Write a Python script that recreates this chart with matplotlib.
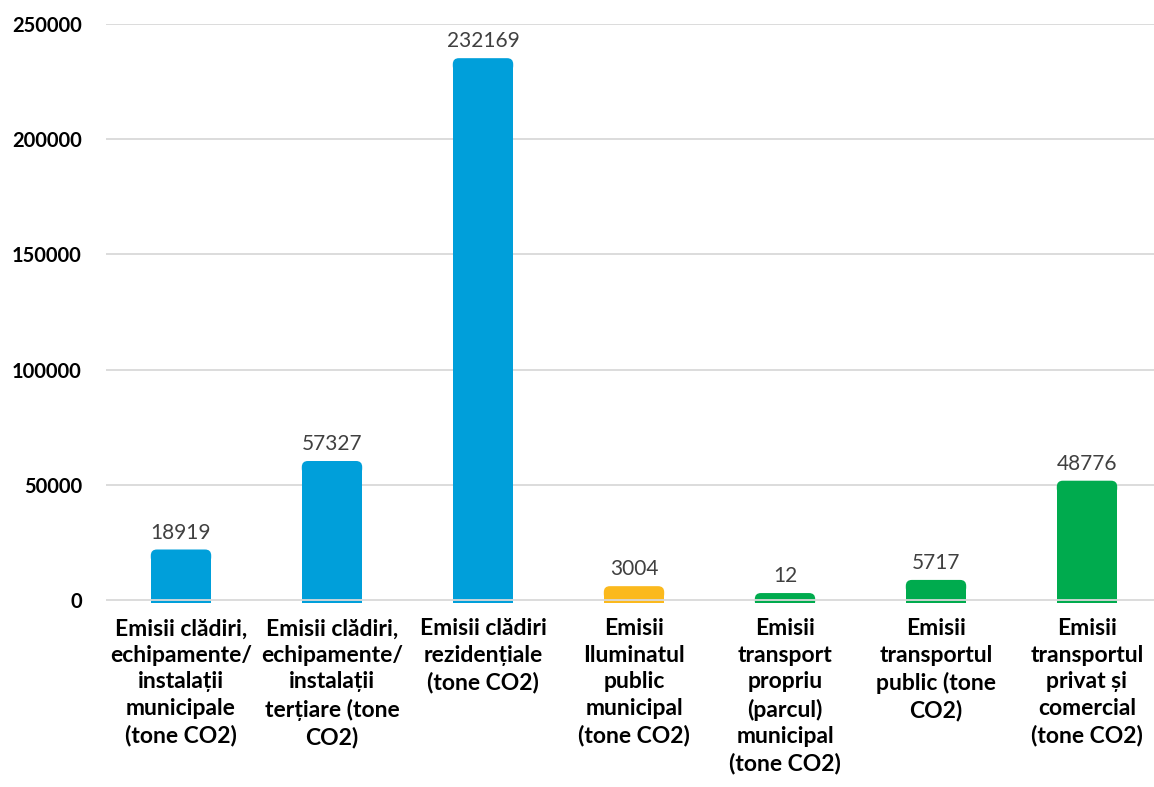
import matplotlib
matplotlib.use("Agg")
import matplotlib.pyplot as plt
from matplotlib.patches import FancyBboxPatch

categories = [
    "Emisii clădiri,\nechipamente/\ninstalații\nmunicipale\n(tone CO2)",
    "Emisii clădiri,\nechipamente/\ninstalații\nterțiare (tone\nCO2)",
    "Emisii clădiri\nrezidențiale\n(tone CO2)",
    "Emisii\nIluminatul\npublic\nmunicipal\n(tone CO2)",
    "Emisii\ntransport\npropriu\n(parcul)\nmunicipal\n(tone CO2)",
    "Emisii\ntransportul\npublic (tone\nCO2)",
    "Emisii\ntransportul\nprivat și\ncomercial\n(tone CO2)",
]
values = [18919, 57327, 232169, 3004, 12, 5717, 48776]
colors = ["#009FDA", "#009FDA", "#009FDA", "#FBB91D", "#00AB4E", "#00AB4E", "#00AB4E"]
yticks = [0, 50000, 100000, 150000, 200000, 250000]

plt.rcParams['font.family'] = ['Lato', 'DejaVu Sans']

fig = plt.figure(figsize=(11.54, 7.87), dpi=100)
ax = fig.add_axes([105.5/1154, 1 - 603/787, 1 - 105.5/1154, (603 - 24)/787])

scale = 250000 / 576.0  # data units per pixel
ax.set_ylim(-3 * scale, 250000)
ax.set_xlim(-0.5, 6.5 - (1162.5 - 1154) / 151)

for y in yticks:
    ax.axhline(y, color="#D9D9D9", lw=1.3, zorder=3 if y == 0 else 0)

cap = 3000
width = 0.4
for i, (v, c) in enumerate(zip(values, colors)):
    bottom = -3 * scale
    top = v + cap
    ax.bar(i, v - bottom, bottom=bottom, width=width, color=c, zorder=2)
    p = FancyBboxPatch((i - width / 2, v - cap), width, 2 * cap,
                       boxstyle="round,pad=0,rounding_size=0.04",
                       mutation_aspect=scale * 151,
                       facecolor=c, edgecolor="none", zorder=2)
    ax.add_patch(p)
    ax.annotate(f"{v}", (i, top), xytext=(0, 5), textcoords="offset points",
                ha="center", va="bottom", fontsize=15, color="#404040", zorder=4)

ax.set_yticks(yticks)
ax.set_yticklabels([str(t) for t in yticks], fontsize=14.5, fontweight="bold")
ax.set_xticks(range(len(categories)))
ax.set_xticklabels(categories, fontsize=16.5, fontweight="bold", linespacing=1.33)
ax.tick_params(axis="both", length=0)
ax.tick_params(axis="y", pad=17)
ax.tick_params(axis="x", pad=11)
for s in ax.spines.values():
    s.set_visible(False)

fig.savefig("out.png", dpi=100)
